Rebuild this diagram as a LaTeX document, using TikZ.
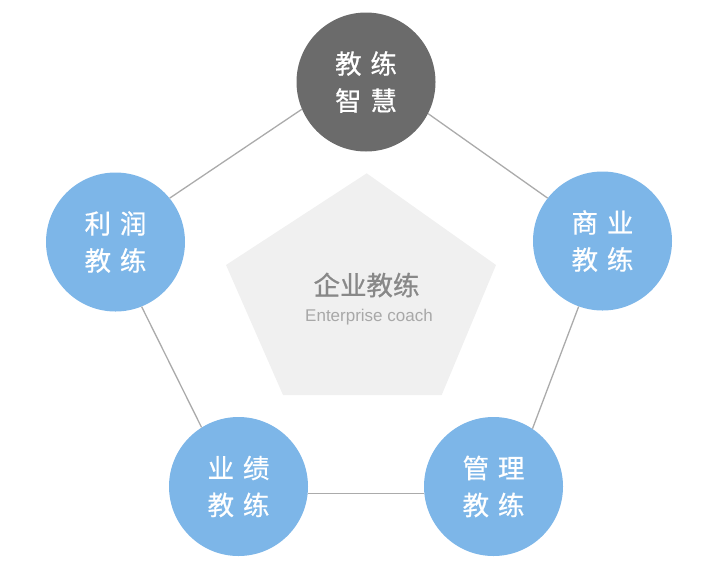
\documentclass[tikz,border=0pt]{standalone}
\usepackage{fontspec}
\setmainfont{Liberation Sans}
\newfontfamily\cjk{Noto Sans CJK SC}
\newfontfamily\cjkb[FakeBold=0.6]{Noto Sans CJK SC}
\definecolor{topgray}{HTML}{6B6B6B}
\definecolor{bluec}{HTML}{7DB6E8}
\definecolor{linegray}{HTML}{ABABAB}
\definecolor{pentafill}{HTML}{F0F0F0}
\definecolor{titlegray}{HTML}{888888}
\definecolor{subgray}{HTML}{A8A8A8}
\begin{document}
\begin{tikzpicture}[x=1pt,y=-1pt,
  circ/.style={circle,minimum size=139pt,inner sep=0pt,fill=bluec,text=white,
    font=\cjkb\fontsize{26.5}{37}\selectfont,align=center},
  darkcirc/.style={circ,fill=topgray},
  conn/.style={draw=linegray,line width=1.3pt}]
\useasboundingbox (0,0) rectangle (722,579);
\fill[pentafill] (366.7,173.3) -- (496,265) -- (441.7,395) -- (283,395) -- (226,265) -- cycle;
\node[font=\cjkb\fontsize{26.5}{30}\selectfont,text=titlegray] (title) at (366.5,285) {企业教练};
\node[font=\fontsize{17}{19}\selectfont,text=subgray] (sub) at (369,317) {Enterprise coach};
\node[darkcirc] (top) at (366,82) {教\,\,练\\智\,\,慧};
\node[circ] (left) at (115.5,242) {利\,\,润\\教\,\,练};
\node[circ] (right) at (602.5,241) {商\,\,业\\教\,\,练};
\node[circ] (bl) at (238.5,486.5) {业\,\,绩\\教\,\,练};
\node[circ] (br) at (493.5,486.5) {管\,\,理\\教\,\,练};
\draw[conn] (top.203.5) -- (left.39.7);
\draw[conn] (top.333.8) -- (right.142.3);
\draw[conn] (left.292.6) -- (bl.122.8);
\draw[conn] (right.250.2) -- (br.56.7);
\draw[conn] (bl.-6.2) -- (br.186.2);
\end{tikzpicture}
\end{document}
